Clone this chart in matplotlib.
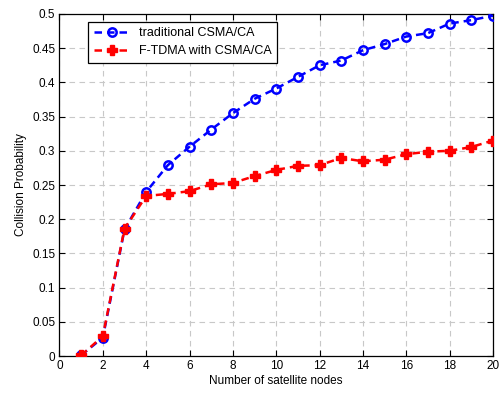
import matplotlib
matplotlib.use("Agg")
import matplotlib.pyplot as plt

nodes = list(range(1, 21))
traditional = [0.001, 0.027, 0.185, 0.240, 0.279, 0.306, 0.331, 0.355, 0.376, 0.391,
               0.408, 0.425, 0.432, 0.447, 0.456, 0.467, 0.472, 0.486, 0.491, 0.4975]
ftdma = [0.001, 0.029, 0.186, 0.234, 0.237, 0.241, 0.251, 0.253, 0.263, 0.272,
         0.278, 0.279, 0.2895, 0.2846, 0.287, 0.295, 0.2987, 0.300, 0.3055, 0.315]
x_ticks = list(range(0, 21, 2))
y_ticks = [0, 0.05, 0.1, 0.15, 0.2, 0.25, 0.3, 0.35, 0.4, 0.45, 0.5]
y_labels = ["0", "0.05", "0.1", "0.15", "0.2", "0.25", "0.3", "0.35", "0.4", "0.45", "0.5"]

plt.rcParams["font.family"] = ["Liberation Sans", "DejaVu Sans"]
plt.rcParams["font.size"] = 8.5

fig = plt.figure(figsize=(5.02, 3.94), dpi=100)
ax = fig.add_axes([0.1185, 0.0964, 0.8635, 0.8681])

ax.plot(nodes, traditional, linestyle=(0, (3, 2)), color="#0000ff", linewidth=1.8,
        marker="o", markersize=6, markerfacecolor="none", markeredgewidth=1.8,
        label="traditional CSMA/CA", zorder=3)
ax.plot(nodes, ftdma, linestyle=(0, (3, 2)), color="#ff0000", linewidth=1.8,
        marker="P", markersize=6.5, markeredgewidth=1.0,
        label="F-TDMA with CSMA/CA", zorder=4)

ax.set_xlim(0, 20)
ax.set_ylim(0, 0.5)
ax.set_xticks(x_ticks)
ax.set_yticks(y_ticks)
ax.set_yticklabels(y_labels)
ax.grid(True, linestyle=(0, (5, 4)), color="#c8c8c8", linewidth=0.8)
ax.tick_params(direction="in", top=True, right=True, length=4, width=0.8, pad=3)
for s in ax.spines.values():
    s.set_linewidth(0.9)

ax.set_xlabel("Number of satellite nodes", labelpad=2)
ax.set_ylabel("Collision Probability", labelpad=4)

leg = ax.legend(loc="upper left", bbox_to_anchor=(0.066, 0.977), borderaxespad=0,
                fancybox=False, edgecolor="black", framealpha=1, handlelength=3.0,
                handletextpad=0.6, borderpad=0.45, labelspacing=0.45, fontsize=9)
leg.get_frame().set_linewidth(0.9)

fig.savefig("out.png", dpi=100)
